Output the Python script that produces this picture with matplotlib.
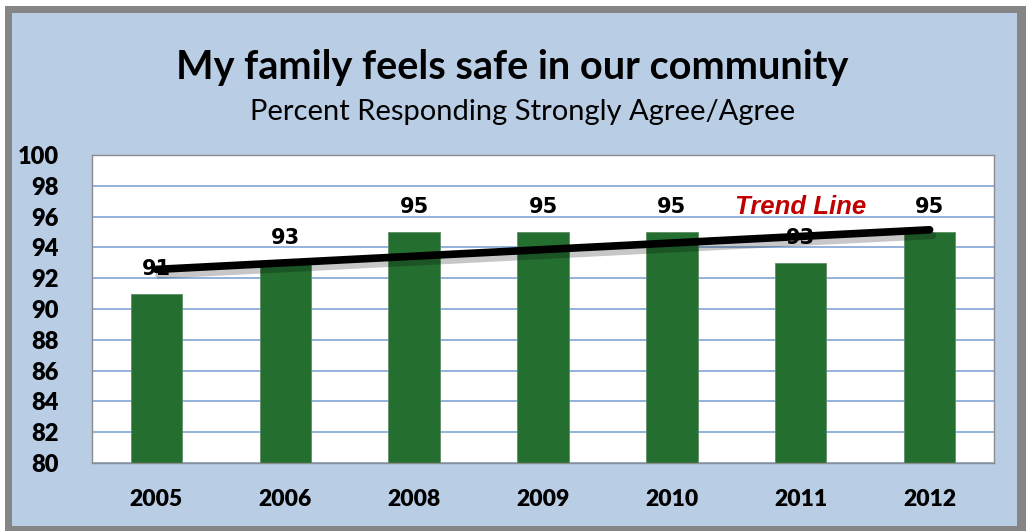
import matplotlib
matplotlib.use("Agg")
import matplotlib.pyplot as plt
import matplotlib.patheffects as pe
import numpy as np
from matplotlib.patches import Rectangle

# data
years = ["2005", "2006", "2008", "2009", "2010", "2011", "2012"]
pct_agree = [91, 93, 95, 95, 95, 93, 95]
y_ticks = [80, 82, 84, 86, 88, 90, 92, 94, 96, 98, 100]

BAR_GREEN = "#246E30"
PANEL_BLUE = "#B9CDE5"
FRAME_GRAY = "#858585"
GRID_BLUE = "#7FA6D6"
TREND_RED = "#C00000"

W, H = 1026, 531
fig = plt.figure(figsize=(W / 100, H / 100), dpi=100)
fig.patch.set_facecolor("white")


# outer grey frame + light blue panel (pixel coords -> figure fraction)
def px_rect(x0, y0, x1, y1, color, z):
    fig.patches.append(Rectangle((x0 / W, 1 - y1 / H), (x1 - x0) / W, (y1 - y0) / H,
                                 transform=fig.transFigure, facecolor=color,
                                 edgecolor="none", zorder=z))


px_rect(5, 6, 1026, 531, FRAME_GRAY, 0)
px_rect(12, 13, 1017, 526, PANEL_BLUE, 1)

ax = fig.add_axes([92 / W, 1 - 463 / H, (994 - 92) / W, (463 - 155) / H])
ax.set_facecolor("white")
ax.set_zorder(2)

x = np.arange(len(years))
ax.bar(x, pct_agree, width=0.4, bottom=0, color=BAR_GREEN, edgecolor="#5E8E66",
       linewidth=0.6, zorder=2)

for xi, v in zip(x, pct_agree):
    ax.annotate(str(v), (xi, v), xytext=(0, 18), textcoords="offset points",
                ha="center", va="center", fontsize=15, fontweight="bold",
                family="DejaVu Sans", color="black", zorder=3)

# linear trend over the bars
k, b = np.polyfit(x, pct_agree, 1)
ax.plot([x[0], x[-1]], [k * x[0] + b, k * x[-1] + b], color="black", lw=5.5,
        solid_capstyle="round", zorder=4,
        path_effects=[pe.SimpleLineShadow(offset=(2, -4), shadow_color="black", alpha=0.22),
                      pe.Normal()])

ax.text(5.0, 96.6, "Trend Line", ha="center", va="center", color=TREND_RED,
        fontsize=18.5, fontweight="bold", fontstyle="italic", family="Liberation Sans",
        zorder=5)

ax.set_ylim(80, 100)
ax.set_xlim(-0.5, len(years) - 0.5)
ax.set_yticks(y_ticks)
ax.set_yticklabels([str(t) for t in y_ticks], fontsize=17, fontweight="heavy", family="Lato")
ax.set_xticks(x)
ax.set_xticklabels(years, fontsize=16.5, fontweight="heavy", family="Lato")
ax.tick_params(axis="y", length=0, pad=24)
ax.tick_params(axis="x", length=0, pad=19)
ax.yaxis.grid(True, color=GRID_BLUE, linewidth=1.2, zorder=1)
ax.set_axisbelow(True)
for side, sp in ax.spines.items():
    sp.set_color("#8C8C8C")
    sp.set_linewidth(1)

fig.text(512 / W, 1 - 68 / H, "My family feels safe in our community", ha="center",
         va="center", fontsize=28.5, fontweight="bold", family="Lato", zorder=3)
fig.text(523 / W, 1 - 112 / H, "Percent Responding Strongly Agree/Agree", ha="center",
         va="center", fontsize=21, family="Lato", zorder=3)

fig.savefig("out.png", dpi=100, facecolor=fig.get_facecolor())
